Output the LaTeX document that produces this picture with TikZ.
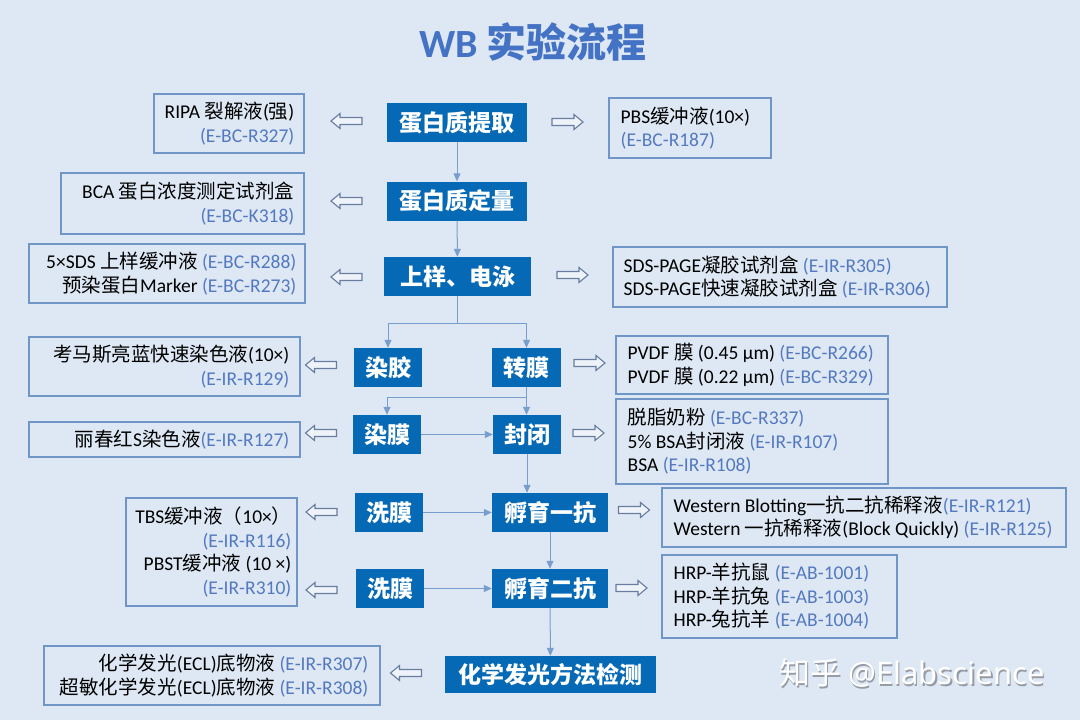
\documentclass[tikz,border=0pt]{standalone}
\usepackage{fontspec}
\setmainfont{Carlito}
\newfontfamily\cjk{Noto Sans CJK SC}
\newfontfamily\wmfont{Noto Sans}
\usetikzlibrary{arrows.meta}
\definecolor{bg}{RGB}{221,232,244}
\definecolor{boxblue}{RGB}{6,105,181}
\definecolor{titleblue}{RGB}{68,114,196}
\definecolor{codec}{RGB}{84,121,192}
\definecolor{reagborder}{RGB}{112,150,200}
\definecolor{connc}{RGB}{120,158,206}
\definecolor{harrowc}{RGB}{105,125,160}
\definecolor{harrowfill}{RGB}{238,243,250}
\definecolor{wmshadow}{RGB}{150,155,165}
\newcommand\zh[1]{{\cjk #1}}
\newcommand\code[1]{\textcolor{codec}{#1}}
\tikzset{
  stepbox/.style={fill=boxblue, text=white, font=\fontsize{23}{26}\selectfont\cjk\bfseries,
    inner sep=0pt, minimum height=39pt},
  reagbox/.style={draw=reagborder, line width=1.1pt, inner sep=0pt},
  reagtext/.style={font=\fontsize{19.5}{23.5}\selectfont, inner sep=0pt, text=black},
  conn/.style={draw=connc, line width=1pt, -{Triangle[length=8pt,width=7pt]}},
  pline/.style={draw=connc, line width=1pt},
  harrowstyle/.style={draw=harrowc, line width=1.1pt, fill=harrowfill, line join=miter},
  hollowL/.pic={\path[harrowstyle] (-15.5,0) -- (-6.5,-7.5) -- (-6.5,-3.5) -- (15.5,-3.5)
     -- (15.5,3.5) -- (-6.5,3.5) -- (-6.5,7.5) -- cycle;},
  hollowR/.pic={\path[harrowstyle] (15.5,0) -- (6.5,-7.5) -- (6.5,-3.5) -- (-15.5,-3.5)
     -- (-15.5,3.5) -- (6.5,3.5) -- (6.5,7.5) -- cycle;}
}
\begin{document}
\begin{tikzpicture}[x=1pt,y=-1pt]
\fill[bg] (0,0) rectangle (1080,720);
\useasboundingbox (0,0) rectangle (1080,720);

% title
\node[font=\fontsize{40}{42}\selectfont\bfseries, text=titleblue, inner sep=0pt] (title) at (533,42) {WB \zh{实验流程}};

% process steps
\node[stepbox, minimum width=140pt] (p1) at (457,122.5) {蛋白质提取};
\node[stepbox, minimum width=140pt] (p2) at (457,201) {蛋白质定量};
\node[stepbox, minimum width=147pt] (p3) at (457.5,276.5) {上样、电泳};
\node[stepbox, minimum width=68pt] (gel) at (388,367.5) {染胶};
\node[stepbox, minimum width=69pt] (tm) at (526.5,367.5) {转膜};
\node[stepbox, minimum width=68pt] (ms) at (387,434.5) {染膜};
\node[stepbox, minimum width=68pt] (bl) at (527,434.5) {封闭};
\node[stepbox, minimum width=68pt] (w1) at (389,512.5) {洗膜};
\node[stepbox, minimum width=116pt] (i1) at (550,512.5) {孵育一抗};
\node[stepbox, minimum width=68pt] (w2) at (390,588.5) {洗膜};
\node[stepbox, minimum width=116pt] (i2) at (550,588.5) {孵育二抗};
\node[stepbox, minimum width=211pt, minimum height=37pt] (det) at (550.5,674.5) {化学发光方法检测};

% connectors
\draw[conn] (p1) -- (p2);
\draw[conn] (p2) -- (p3);
\coordinate (b1) at (457.5,323);
\draw[pline] (p3.south) -- (b1);
\draw[conn] (b1) -| (gel.north);
\draw[conn] (b1) -| (tm.north);
\coordinate (b2) at (526.5,397);
\draw[pline] (tm.south) -- (b2);
\draw[conn] (b2) -| (ms.north);
\draw[conn] (b2) -- (b2 |- bl.north);
\draw[conn] (ms) -- (bl);
\draw[conn] (bl.south) -- (bl.south |- i1.north);
\draw[conn] (w1) -- (i1);
\draw[conn] (i1) -- (i2);
\draw[conn] (w2) -- (i2);
\draw[conn] (i2) -- (det);

% reagent boxes
\node[reagbox, minimum width=150pt, minimum height=59pt] (r1) at (229,123.5) {};
\node[reagtext, anchor=east, align=right] (r1t) at ([xshift=-10pt]r1.east)
  {RIPA \zh{裂解液}(\zh{强})\\ \code{(E-BC-R327)}};

\node[reagbox, minimum width=243pt, minimum height=61pt] (r2) at (182.5,203.5) {};
\node[reagtext, anchor=east, align=right] (r2t) at ([xshift=-10pt]r2.east)
  {BCA \zh{蛋白浓度测定试剂盒}\\ \code{(E-BC-K318)}};

\node[reagbox, minimum width=162pt, minimum height=60pt] (r3) at (690,128) {};
\node[reagtext, anchor=west, align=left] (r3t) at ([xshift=12pt]r3.west)
  {PBS\zh{缓冲液}(10×)\\ \code{(E-BC-R187)}};

\node[reagbox, minimum width=276pt, minimum height=59pt] (r4) at (167,273.5) {};
\node[reagtext, anchor=east, align=right] (r4t) at ([xshift=-9pt]r4.east)
  {5×SDS \zh{上样缓冲液} \code{(E-BC-R288)}\\ \zh{预染蛋白}Marker \code{(E-BC-R273)}};

\node[reagbox, minimum width=334pt, minimum height=60pt] (r5) at (780,277) {};
\node[reagtext, anchor=west, align=left] (r5t) at ([xshift=11pt]r5.west)
  {SDS-PAGE\zh{凝胶试剂盒} \code{(E-IR-R305)}\\ SDS-PAGE\zh{快速凝胶试剂盒} \code{(E-IR-R306)}};

\node[reagbox, minimum width=271pt, minimum height=59pt] (r6) at (164.5,366.5) {};
\node[reagtext, anchor=east, align=right] (r6t) at ([xshift=-11pt]r6.east)
  {\zh{考马斯亮蓝快速染色液}(10×)\\ \code{(E-IR-R129)}};

\node[reagbox, minimum width=271pt, minimum height=35pt] (r7) at (164.5,439.5) {};
\node[reagtext, anchor=east, align=right] (r7t) at ([xshift=-11pt]r7.east)
  {\zh{丽春红}S\zh{染色液}\code{(E-IR-R127)}};

\node[reagbox, minimum width=272pt, minimum height=58pt] (r8) at (752,365) {};
\node[reagtext, anchor=west, align=left] (r8t) at ([xshift=12pt]r8.west)
  {PVDF \zh{膜} (0.45 µm) \code{(E-BC-R266)}\\ PVDF \zh{膜} (0.22 µm) \code{(E-BC-R329)}};

\node[reagbox, minimum width=272pt, minimum height=85pt] (r9) at (752,441.5) {};
\node[reagtext, anchor=west, align=left] (r9t) at ([xshift=12pt]r9.west)
  {\zh{脱脂奶粉} \code{(E-BC-R337)}\\ 5\% BSA\zh{封闭液} \code{(E-IR-R107)}\\ BSA \code{(E-IR-R108)}};

\node[reagbox, minimum width=171pt, minimum height=108pt] (r10) at (211.5,552) {};
\node[reagtext, anchor=east, align=right] (r10t) at ([xshift=-6pt]r10.east)
  {TBS\zh{缓冲液（}10×\zh{）}\\ \code{(E-IR-R116)}\\ PBST\zh{缓冲液} (10 ×)\\ \code{(E-IR-R310)}};

\node[reagbox, minimum width=404pt, minimum height=59pt] (r11) at (864,517.5) {};
\node[reagtext, anchor=west, align=left] (r11t) at ([xshift=12pt]r11.west)
  {Western Blotting\zh{一抗二抗稀释液}\code{(E-IR-R121)}\\ Western \zh{一抗稀释液}(Block Quickly) \code{(E-IR-R125)}};

\node[reagbox, minimum width=235pt, minimum height=83pt] (r12) at (779.5,596.5) {};
\node[reagtext, anchor=west, align=left] (r12t) at ([xshift=12pt]r12.west)
  {HRP-\zh{羊抗鼠} \code{(E-AB-1001)}\\ HRP-\zh{羊抗兔} \code{(E-AB-1003)}\\ HRP-\zh{兔抗羊} \code{(E-AB-1004)}};

\node[reagbox, minimum width=336pt, minimum height=59pt] (r13) at (212,675.5) {};
\node[reagtext, anchor=east, align=right] (r13t) at ([xshift=-12pt]r13.east)
  {\zh{化学发光}(ECL)\zh{底物液} \code{(E-IR-R307)}\\ \zh{超敏化学发光}(ECL)\zh{底物液} \code{(E-IR-R308)}};

% hollow arrows
\pic at (346.5,121) {hollowL};
\pic at (567.5,122) {hollowR};
\pic at (346.5,201) {hollowL};
\pic at (346.5,277) {hollowL};
\pic at (572.5,275) {hollowR};
\pic at (321,365) {hollowL};
\pic at (589.5,363) {hollowR};
\pic at (321,433) {hollowL};
\pic at (588.5,433) {hollowR};
\pic at (321.5,512) {hollowL};
\pic at (321.5,590) {hollowL};
\pic at (634,510) {hollowR};
\pic at (631.5,588) {hollowR};
\pic at (406,673) {hollowL};

% watermark
\node[font=\fontsize{31}{34}\selectfont, text=wmshadow, inner sep=0pt] (wms) at (913.5,674.5) {\zh{知乎} {\wmfont @Elabscience}};
\node[font=\fontsize{31}{34}\selectfont, text=white, inner sep=0pt] (wm) at (912,673) {\zh{知乎} {\wmfont @Elabscience}};
\end{tikzpicture}
\end{document}
